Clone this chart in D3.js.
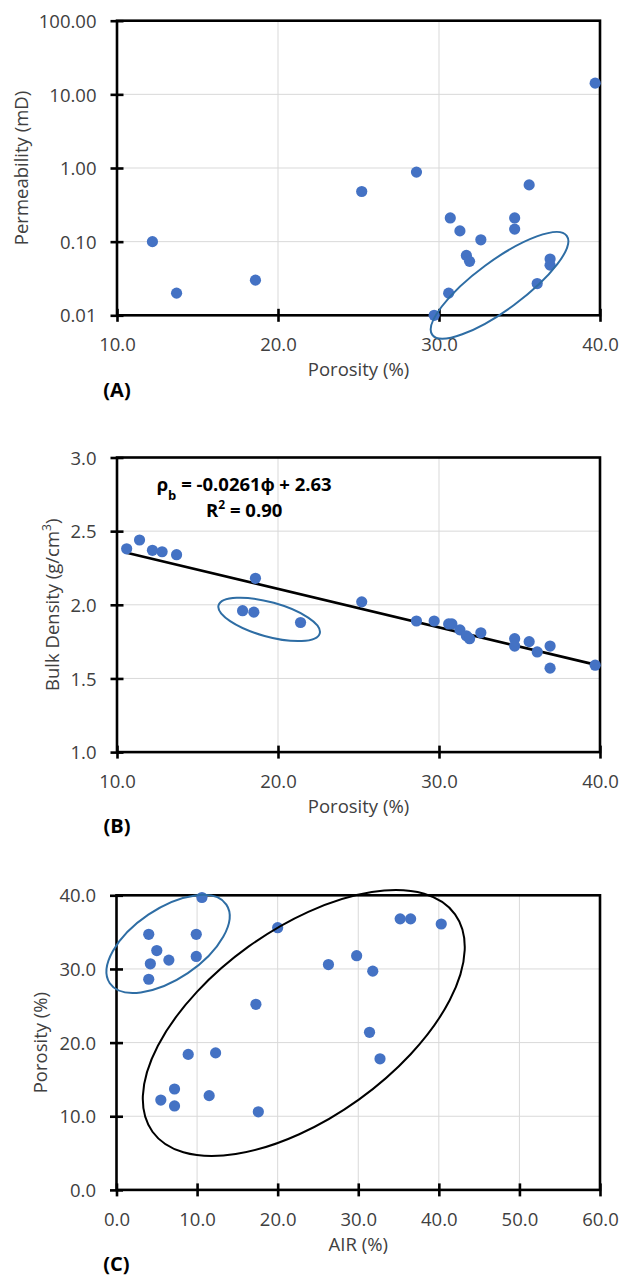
<!DOCTYPE html>
<html><head><meta charset="utf-8">
<script src="https://cdn.jsdelivr.net/npm/d3@7"></script>
<style>
html,body{margin:0;padding:0;background:#fff;}
svg text{font-family:"Open Sans",sans-serif;}
</style></head><body>
<svg id="fig" width="622" height="1281"></svg>
<script>
// (A) permeability against porosity
const permPorosity = [12.2, 13.7, 18.6, 25.2, 28.6, 29.7, 30.6, 30.7, 31.3, 31.7, 31.9, 32.6, 34.7, 34.7, 35.6, 36.1, 36.9, 36.9, 39.7];
const permeability = [0.10, 0.020, 0.030, 0.48, 0.88, 0.010, 0.020, 0.21, 0.14, 0.065, 0.054, 0.106, 0.21, 0.148, 0.59, 0.027, 0.058, 0.048, 14.2];
const permTicks = [0.01, 0.1, 1, 10, 100];
const porosityTicks = [10, 20, 30, 40];

// (B) bulk density against porosity, with linear fit
const bdPorosity = [10.6, 11.4, 12.2, 12.8, 13.7, 17.8, 18.5, 18.6, 21.4, 25.2, 28.6, 29.7, 30.6, 30.8, 31.3, 31.7, 31.9, 32.6, 34.7, 34.7, 35.6, 36.1, 36.9, 36.9, 39.7];
const bulkDensity = [2.38, 2.44, 2.37, 2.36, 2.34, 1.96, 1.95, 2.18, 1.88, 2.02, 1.89, 1.89, 1.87, 1.87, 1.83, 1.79, 1.77, 1.81, 1.77, 1.72, 1.75, 1.68, 1.72, 1.57, 1.59];
const densityTicks = [1.0, 1.5, 2.0, 2.5, 3.0];
const fitSlope = -0.0261;
const fitIntercept = 2.63;
const fitR2 = 0.90;

// (C) porosity against AIR
const airPct = [10.6, 4.0, 9.9, 5.0, 6.5, 4.2, 9.9, 4.0, 20.0, 35.2, 36.5, 40.3, 29.8, 26.3, 31.8, 17.3, 31.4, 32.7, 8.9, 12.3, 7.2, 5.5, 7.2, 11.5, 17.6];
const airPorosity = [39.7, 34.7, 34.7, 32.5, 31.2, 30.7, 31.7, 28.6, 35.6, 36.8, 36.8, 36.1, 31.8, 30.6, 29.7, 25.2, 21.4, 17.8, 18.4, 18.6, 13.7, 12.2, 11.4, 12.8, 10.6];
const airTicks = [0, 10, 20, 30, 40, 50, 60];
const cPorosityTicks = [0, 10, 20, 30, 40];

const svg = d3.select("#fig");
svg.append("rect").attr("width", 622).attr("height", 1281).attr("fill", "#fff");

const DOT = "#4472C4";
const RING_BLUE = "#2E6DA4";
const GRID = "#d9d9d9";
const LABEL = "#404040";
const PLOT_H = 294.6;

function panel(o) {
  const g = svg.append("g");
  const [x0, x1] = o.x.range();
  const [yb, yt] = o.y.range();

  // gridlines
  g.selectAll(null).data(o.xTicks).join("line")
    .attr("x1", d => o.x(d)).attr("x2", d => o.x(d))
    .attr("y1", yt).attr("y2", yb)
    .attr("stroke", GRID).attr("stroke-width", 1);
  g.selectAll(null).data(o.yTicks).join("line")
    .attr("x1", x0).attr("x2", x1)
    .attr("y1", d => o.y(d)).attr("y2", d => o.y(d))
    .attr("stroke", GRID).attr("stroke-width", 1);

  // plot frame
  g.append("rect").attr("x", x0).attr("y", yt)
    .attr("width", x1 - x0).attr("height", yb - yt)
    .attr("fill", "none").attr("stroke", "#000").attr("stroke-width", 2.6);

  // axes with ticks crossing the frame
  const ax = g.append("g").attr("transform", `translate(0,${yb})`)
    .call(d3.axisBottom(o.x).tickValues(o.xTicks).tickFormat(o.xFmt).tickSize(6.5));
  ax.select(".domain").remove();
  ax.selectAll(".tick line").attr("y1", -6.5).attr("stroke", "#000").attr("stroke-width", 2.6);
  ax.selectAll(".tick text").attr("y", 29).attr("dy", "0.36em")
    .attr("font-size", 18.5).attr("fill", LABEL).attr("font-family", '"Open Sans",sans-serif');

  const ay = g.append("g").attr("transform", `translate(${x0},0)`)
    .call(d3.axisLeft(o.y).tickValues(o.yTicks).tickFormat(o.yFmt).tickSize(6.5));
  ay.select(".domain").remove();
  ay.selectAll(".tick line").attr("x1", 6.5).attr("stroke", "#000").attr("stroke-width", 2.6);
  ay.selectAll(".tick text").attr("x", -20.5).attr("dy", "0.36em")
    .attr("font-size", 18.5).attr("fill", LABEL).attr("font-family", '"Open Sans",sans-serif');

  // axis titles
  g.append("text").attr("x", (x0 + x1) / 2).attr("y", yb + 54).attr("dy", "0.36em")
    .attr("text-anchor", "middle").attr("font-size", 18.5).attr("fill", LABEL)
    .text(o.xTitle);
  const yt2 = g.append("text")
    .attr("transform", `translate(${o.yTitleX},${(yt + yb) / 2}) rotate(-90)`)
    .attr("dy", "0.36em").attr("text-anchor", "middle")
    .attr("font-size", 18.5).attr("fill", LABEL);
  o.yTitle(yt2);

  // panel tag
  g.append("text").attr("x", x0).attr("y", yb + 74).attr("dy", "0.36em")
    .attr("text-anchor", "middle").attr("font-size", 20).attr("font-weight", "bold")
    .attr("fill", "#000").text(o.tag);
  return g;
}

function ring(g, cx, cy, rx, ry, angle, colour) {
  g.append("ellipse")
    .attr("transform", `translate(${cx},${cy}) rotate(${angle})`)
    .attr("rx", rx).attr("ry", ry)
    .attr("fill", "none").attr("stroke", colour).attr("stroke-width", 2);
}

function dots(g, xs, ys, x, y) {
  g.selectAll(null).data(xs.map((v, i) => [v, ys[i]])).join("circle")
    .attr("cx", d => x(d[0])).attr("cy", d => y(d[1])).attr("r", 5.6)
    .attr("fill", DOT);
}

// ---------- (A) ----------
{
  const top = 20.7;
  const x = d3.scaleLinear().domain([10, 40]).range([117, 600]);
  const y = d3.scaleLog().domain([0.01, 100]).range([top + PLOT_H, top]);
  const g = panel({
    x, y, xTicks: porosityTicks, yTicks: permTicks,
    xFmt: d3.format(".1f"), yFmt: d3.format(".2f"),
    xTitle: "Porosity (%)",
    yTitle: t => t.text("Permeability (mD)"),
    yTitleX: 21, tag: "(A)"
  });
  dots(g, permPorosity, permeability, x, y);
  ring(g, x(33.76), y(0.0255), 83.5, 24.4, -36.4, RING_BLUE);
}

// ---------- (B) ----------
{
  const top = 457.5;
  const x = d3.scaleLinear().domain([10, 40]).range([117, 600]);
  const y = d3.scaleLinear().domain([1, 3]).range([top + PLOT_H, top]);
  const g = panel({
    x, y, xTicks: porosityTicks, yTicks: densityTicks,
    xFmt: d3.format(".1f"), yFmt: d3.format(".1f"),
    xTitle: "Porosity (%)",
    yTitle: t => {
      t.append("tspan").text("Bulk Density (g/cm");
      t.append("tspan").attr("baseline-shift", "super").attr("font-size", 12).text("3");
      t.append("tspan").text(")");
    },
    yTitleX: 52, tag: "(B)"
  });
  // least-squares line over the data range
  const xr = d3.extent(bdPorosity);
  g.append("line")
    .attr("x1", x(xr[0])).attr("y1", y(fitSlope * xr[0] + fitIntercept))
    .attr("x2", x(xr[1])).attr("y2", y(fitSlope * xr[1] + fitIntercept))
    .attr("stroke", "#000").attr("stroke-width", 2.6);
  dots(g, bdPorosity, bulkDensity, x, y);
  ring(g, x(19.45), y(1.901), 52.5, 17.2, 15.5, RING_BLUE);

  const eq = g.append("text").attr("x", x(17.9)).attr("y", y(2.82)).attr("dy", "0.36em")
    .attr("text-anchor", "middle").attr("font-size", 18.5).attr("font-weight", "bold").attr("fill", "#000");
  eq.append("tspan").text("ρ");
  eq.append("tspan").attr("baseline-shift", "sub").attr("font-size", 13).text("b");
  eq.append("tspan").text(` = ${fitSlope}ϕ + ${fitIntercept}`);
  const r2 = g.append("text").attr("x", x(17.9)).attr("y", y(2.639)).attr("dy", "0.36em")
    .attr("text-anchor", "middle").attr("font-size", 18.5).attr("font-weight", "bold").attr("fill", "#000");
  r2.append("tspan").text("R");
  r2.append("tspan").attr("baseline-shift", "super").attr("font-size", 12).text("2");
  r2.append("tspan").text(` = ${fitR2.toFixed(2)}`);
}

// ---------- (C) ----------
{
  const top = 895.3;
  const x = d3.scaleLinear().domain([0, 60]).range([116.5, 600]);
  const y = d3.scaleLinear().domain([0, 40]).range([top + PLOT_H, top]);
  const g = panel({
    x, y, xTicks: airTicks, yTicks: cPorosityTicks,
    xFmt: d3.format(".1f"), yFmt: d3.format(".1f"),
    xTitle: "AIR (%)",
    yTitle: t => t.text("Porosity (%)"),
    yTitleX: 40, tag: "(C)"
  });
  dots(g, airPct, airPorosity, x, y);
  ring(g, x(6.4), y(33.4), 70.3, 35.3, -34, RING_BLUE);
  ring(g, x(23.24), y(22.66), 186.3, 94.3, -35.7, "#000");
}
</script>
</body></html>
